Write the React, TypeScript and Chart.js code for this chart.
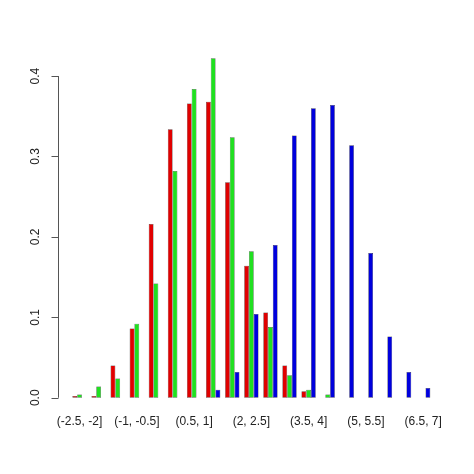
import React, { useEffect, useRef } from "react";
import { Chart, registerables } from "chart.js";

Chart.register(...registerables);

const categories = [
  "(-2.5, -2]", "(-2, -1.5]", "(-1.5, -1]", "(-1, -0.5]", "(-0.5, 0]", "(0, 0.5]",
  "(0.5, 1]", "(1, 1.5]", "(1.5, 2]", "(2, 2.5]", "(2.5, 3]", "(3, 3.5]",
  "(3.5, 4]", "(4, 4.5]", "(4.5, 5]", "(5, 5.5]", "(5.5, 6]", "(6, 6.5]", "(6.5, 7]",
];
const redValues = [0.002, 0.002, 0.04, 0.086, 0.216, 0.334, 0.366, 0.368, 0.268, 0.164, 0.106, 0.04, 0.008, 0, 0, 0, 0, 0, 0];
const greenValues = [0.004, 0.014, 0.024, 0.092, 0.142, 0.282, 0.384, 0.422, 0.324, 0.182, 0.088, 0.028, 0.01, 0.004, 0, 0, 0, 0, 0];
const blueValues = [0, 0, 0, 0, 0, 0, 0, 0.01, 0.032, 0.104, 0.19, 0.326, 0.36, 0.364, 0.314, 0.18, 0.076, 0.032, 0.012];
const yTicks = [0, 0.1, 0.2, 0.3, 0.4];
const yTickLabels = ["0.0", "0.1", "0.2", "0.3", "0.4"];

const FONT = '12px "Liberation Sans", Arial, sans-serif';

const axesPlugin = {
  id: "rAxes",
  afterDraw(chart: any) {
    const ctx = chart.ctx;
    const y = chart.scales.y;
    const x = chart.scales.x;
    ctx.save();
    const axX = 58.5;
    ctx.strokeStyle = "#555555";
    ctx.lineWidth = 1;
    ctx.beginPath();
    ctx.moveTo(axX, y.getPixelForValue(yTicks[0]));
    ctx.lineTo(axX, y.getPixelForValue(yTicks[yTicks.length - 1]));
    yTicks.forEach((t) => {
      const py = Math.round(y.getPixelForValue(t)) + 0.5;
      ctx.moveTo(axX, py);
      ctx.lineTo(axX - 7, py);
    });
    ctx.stroke();
    ctx.fillStyle = "#222222";
    ctx.font = FONT;
    ctx.textAlign = "center";
    ctx.textBaseline = "middle";
    yTicks.forEach((t, i) => {
      const py = y.getPixelForValue(t);
      ctx.save();
      ctx.translate(35.5, py);
      ctx.rotate(-Math.PI / 2);
      ctx.fillText(yTickLabels[i], 0, 0);
      ctx.restore();
    });
    categories.forEach((c, i) => {
      if (i % 3 !== 0) return;
      const px = x.getPixelForValue(i);
      ctx.fillText(c, px, 422);
    });
    ctx.restore();
  },
};

export default function App() {
  const ref = useRef<HTMLCanvasElement | null>(null);
  useEffect(() => {
    document.body.style.margin = "0";
    if (!ref.current) return;
    const chart = new Chart(ref.current, {
      type: "bar",
      data: {
        labels: categories,
        datasets: [
          { data: redValues.map((v) => (v === 0 ? null : v)), backgroundColor: "#e00000" },
          { data: greenValues.map((v) => (v === 0 ? null : v)), backgroundColor: "#20e020" },
          { data: blueValues.map((v) => (v === 0 ? null : v)), backgroundColor: "#0000dd" },
        ].map((d) => ({
          ...d,
          borderColor: "#222222",
          borderWidth: 0.5,
          borderSkipped: false,
          categoryPercentage: 0.75,
          barPercentage: 1,
          skipNull: false,
        })),
      },
      options: {
        animation: false,
        responsive: false,
        devicePixelRatio: 1,
        layout: { padding: { left: 70, right: 41.3, top: 44.8, bottom: 62.7 } },
        plugins: { legend: { display: false }, tooltip: { enabled: false } },
        scales: {
          x: { type: "category", display: false, offset: true },
          y: { type: "linear", display: false, min: -0.01688, max: 0.43888 },
        },
      },
      plugins: [axesPlugin],
    });
    return () => chart.destroy();
  }, []);
  return (
    <div style={{ position: "absolute", left: 0, top: 0, width: 474, height: 474, background: "#fff" }}>
      <canvas ref={ref} width={474} height={474} />
    </div>
  );
}
